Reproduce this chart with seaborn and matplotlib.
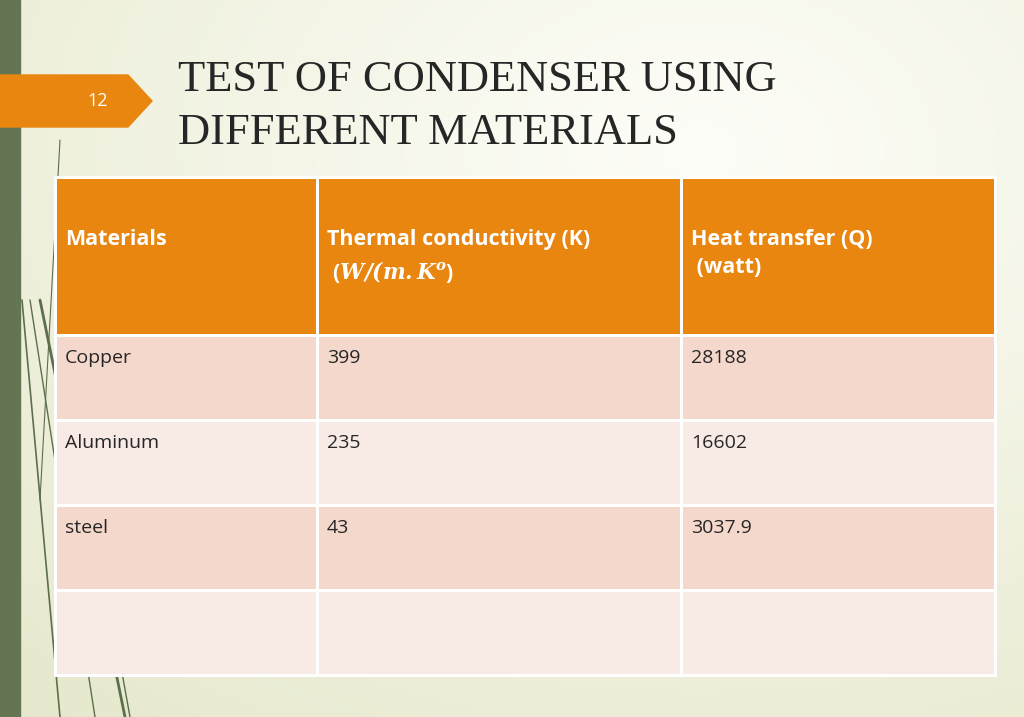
import matplotlib
matplotlib.use("Agg")
import matplotlib.pyplot as plt
import numpy as np
import seaborn as sns
from matplotlib.colors import ListedColormap
from matplotlib.patches import Polygon, Rectangle

sns.set_style("white")
plt.rcParams["font.family"] = ["Open Sans", "DejaVu Sans"]
plt.rcParams["mathtext.fontset"] = "dejavuserif"

slide_number = "12"
title_lines = ["TEST OF CONDENSER USING", "DIFFERENT MATERIALS"]
headers = ["Materials", "Thermal conductivity (K)\n ($\\mathbfit{W/(m.K^o}$)", "Heat transfer (Q)\n (watt)"]
materials = ["Copper", "Aluminum", "steel", ""]
conductivity = ["399", "235", "43", ""]
heat_transfer = ["28188", "16602", "3037.9", ""]

col_edges = [55, 317, 681, 995]
row_edges = [177, 335, 420, 505, 590, 675]

fig = plt.figure(figsize=(10.24, 7.17), dpi=100)
ax = fig.add_axes([0, 0, 1, 1])
ax.set_xlim(0, 1024)
ax.set_ylim(717, 0)
ax.axis("off")

# background radial-ish gradient
yy, xx = np.mgrid[0:717, 0:1024]
d = np.sqrt(((xx - 700) / 1024) ** 2 + ((yy - 150) / 717) ** 2)
d = np.clip(d / d.max(), 0, 1)[..., None]
c0 = np.array([0.995, 0.995, 0.975])
c1 = np.array([0.90, 0.91, 0.80])
ax.imshow(c0 * (1 - d) + c1 * d, extent=(0, 1024, 717, 0), zorder=0)

# left strip and decorative strokes
ax.add_patch(Rectangle((0, 0), 20, 717, color="#637553", zorder=1))
for x0, x1, lw in [(22, 60, 1.2), (30, 95, 1.0), (40, 125, 2.0), (55, 130, 1.0)]:
    ax.plot([x0, x1], [300, 717], color="#5d6e4c", lw=lw, zorder=1)
ax.plot([40, 60], [500, 140], color="#5d6e4c", lw=0.8, zorder=1)

# slide number tab
ax.add_patch(Polygon([(0, 75), (128, 75), (152, 101), (128, 127), (0, 127)],
                     closed=True, color="#E8860F", zorder=3))
ax.text(98, 101, slide_number, color="white", fontsize=13, ha="center", va="center", zorder=4)

ax.text(178, 80, title_lines[0], family="Liberation Serif", fontsize=32, color="#262626", va="center")
ax.text(178, 133, title_lines[1], family="Liberation Serif", fontsize=32, color="#262626", va="center")

# table cells
shade = np.array([[0] * 3, [1] * 3, [2] * 3, [1] * 3, [2] * 3])
cmap = ListedColormap(["#E8860F", "#F4D8CB", "#F8EAE5"])
ax.pcolormesh(col_edges, row_edges, shade, cmap=cmap, vmin=-0.5, vmax=2.5,
              edgecolors="white", linewidth=2, zorder=2)

for j, h in enumerate(headers):
    ax.text(col_edges[j] + 10, 229, h, color="white", fontsize=15.5, fontweight="bold",
            va="top", linespacing=1.45, zorder=4)

columns = [materials, conductivity, heat_transfer]
for j, col in enumerate(columns):
    for i, val in enumerate(col):
        ax.text(col_edges[j] + 10, row_edges[i + 1] + 23, val, color="#262626",
                fontsize=14, va="center", zorder=4)

fig.savefig("out.png", dpi=100)
